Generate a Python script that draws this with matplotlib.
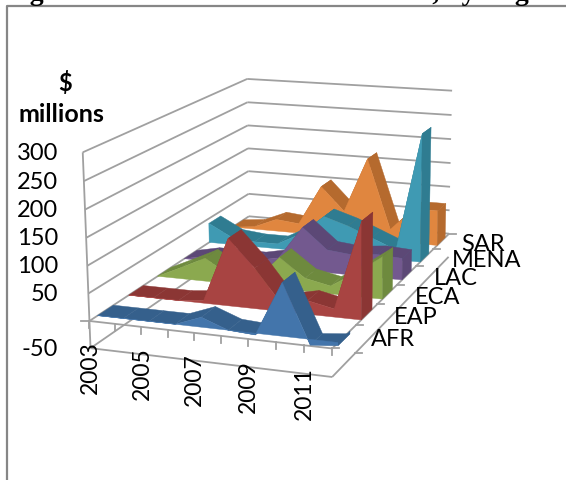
#Bootleg 3D area chart, perspective done by hand

import numpy as np
from matplotlib import pyplot as plt

regions = ['AFR', 'EAP', 'ECA', 'LAC', 'MENA', 'SAR']
years = [2003, 2004, 2005, 2006, 2007, 2008, 2009, 2010, 2011, 2012]
z_ticks = [-50, 50, 100, 150, 200, 250, 300]

afr = [0, 0, 0, 0, 18, 0, -3, 95, -10, -5]
eap = [0, 0, 0, 5, 125, 75, 15, 25, 15, 178]
eca = [0, 22, 45, 15, 10, 60, 25, 15, 45, 80]
lac = [0, 10, 10, 10, 20, 85, 45, 40, 45, 42]
mena = [40, 15, 10, 10, 35, 75, 60, 40, 20, 255]
sar = [0, 5, 25, 20, 103, 55, 168, 25, 72, 72]
series = [afr, eap, eca, lac, mena, sar]

front_cols = ['#4375AB', '#A84442', '#8BA94F', '#73598F', '#3F9AB3', '#E0863F']
top_cols = ['#35608C', '#8B3634', '#6E8A3E', '#5C4876', '#2F7C91', '#B56A2E']

GREY = '#A0A0A0'

# Where the box corners sit in the picture: u along years, v into depth, z value
calib = [
    (0, 0, 0, 88, 322), (1, 0, 0, 333, 350), (0, 1, 0, 249, 218), (1, 1, 0, 450, 233),
    (0, 0, 300, 83, 153), (0, 1, 300, 247, 79), (1, 1, 300, 452, 93),
    (0, 0, -50, 92, 348), (1, 0, -50, 331, 379), (1, 1, -50, 448, 257), (0, 1, -50, 249, 241),
]


# Solve the 3x4 camera matrix from the corners
def fit_camera(pts):
    A = []
    b = []
    for u, v, z, x, y in pts:
        A.append([u, v, z, 1, 0, 0, 0, 0, -x * u, -x * v, -x * z])
        b.append(x)
        A.append([0, 0, 0, 0, u, v, z, 1, -y * u, -y * v, -y * z])
        b.append(y)
    p = np.linalg.lstsq(np.array(A, float), np.array(b, float), rcond=None)[0]
    return np.append(p, 1).reshape(3, 4)


P = fit_camera(calib)


def project(u, v, z):
    h = P @ np.array([u, v, z, 1.0])
    return h[0] / h[2], h[1] / h[2]


def seg(ax, a, b, lw=1.3):
    pa = project(*a)
    pb = project(*b)
    ax.plot([pa[0], pb[0]], [pa[1], pb[1]], color=GREY, lw=lw, solid_capstyle='butt', zorder=1)


fig = plt.figure(figsize=(5.66, 4.81), dpi=100)
ax = fig.add_axes([0, 0, 1, 1])
ax.set_xlim(0, 566)
ax.set_ylim(481, 0)
ax.set_axis_off()

# chart frame, cut by the page on the right and bottom
ax.plot([7, 7, 566], [481, 6.5, 6.5], color='#868686', lw=1.6)

# title is cropped off at the top of the picture
ax.text(5, 0, 'Figure 10: United Nations Transfers, by Region', family='Liberation Serif',
        weight='bold', fontsize=20, va='baseline', ha='left', color='black', clip_on=False)

# walls
for z in range(0, 301, 50):
    seg(ax, (0, 0, z), (0, 1, z))
    seg(ax, (0, 1, z), (1, 1, z))
seg(ax, (0, 0, -50), (0, 0, 300))
seg(ax, (0, 0, -50), (1, 0, -50))
seg(ax, (0, 0, -50), (0, 1, -50))
seg(ax, (1, 0, -50), (1, 1, -50))
seg(ax, (0, 0, 0), (1, 0, 0))
seg(ax, (1, 0, 0), (1, 1, 0))

# ticks on the floor edges
for i in range(len(years)):
    u = i / (len(years) - 1)
    x, y = project(u, 0, 0)
    ax.plot([x, x], [y, y + 7], color=GREY, lw=1.3, zorder=1)
for i in range(len(regions) + 1):
    x, y = project(1, i / len(regions), 0)
    ax.plot([x, x + 7], [y, y], color=GREY, lw=1.3, zorder=1)
x, y = project(0, 0, 0)
ax.plot([x - 8, x], [y, y], color=GREY, lw=1.3, zorder=1)
x, y = project(1, 1 / len(regions), -50)
ax.plot([x, x + 7], [y, y], color=GREY, lw=1.3, zorder=1)

# ribbons, back to front
n = len(years)
for s in range(len(series) - 1, -1, -1):
    vals = series[s]
    vf = (s + 0.25) / len(regions)
    vb = (s + 0.75) / len(regions)
    us = [i / (n - 1) for i in range(n)]
    zo = 5 + (len(series) - s) * 3
    # top strip
    for i in range(n - 1):
        quad = [project(us[i], vf, vals[i]), project(us[i + 1], vf, vals[i + 1]),
                project(us[i + 1], vb, vals[i + 1]), project(us[i], vb, vals[i])]
        ax.fill(*zip(*quad), color=top_cols[s], lw=0.3, zorder=zo)
    # front face
    front = [project(u, vf, z) for u, z in zip(us, vals)]
    front += [project(1, vf, 0), project(0, vf, 0)]
    ax.fill(*zip(*front), color=front_cols[s], lw=0.3, zorder=zo + 1)
    # right end
    cap = [project(1, vf, vals[-1]), project(1, vb, vals[-1]), project(1, vb, 0), project(1, vf, 0)]
    ax.fill(*zip(*cap), color=top_cols[s], lw=0.3, zorder=zo + 2)

# axis text
font = 'Lato'
for z in z_ticks:
    x, y = project(0, 0, z)
    ax.text(58, y, str(z), family=font, fontsize=17, ha='right', va='center', color='black')
ax.text(65, 83, '$', family=font, weight='bold', fontsize=17, ha='center', va='center')
ax.text(61, 114, 'millions', family=font, weight='bold', fontsize=18, ha='center', va='center')

for i in range(0, n - 1, 2):
    x, y = project(i / (n - 1), 0, -50)
    ax.text(x, y - 8, str(years[i]), family=font, fontsize=16.5, rotation=90, ha='center', va='top')

for s, name in enumerate(regions):
    x, y = project(1, (s + 0.5) / len(regions), 0)
    dx = 20 if name == 'SAR' else 27
    ax.text(x + dx, y + 2, name, family=font, fontsize=17, ha='left', va='center')

fig.savefig('out.png', dpi=100)
